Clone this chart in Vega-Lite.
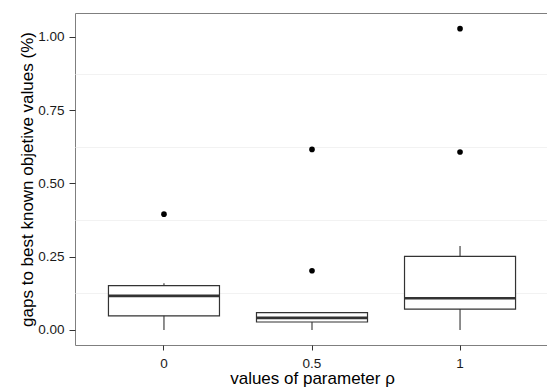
{
  "$schema": "https://vega.github.io/schema/vega-lite/v6.json",
  "autosize": {"type": "none"},
  "padding": {"left": 75, "top": 13, "right": 0, "bottom": 44},
  "width": 474,
  "height": 332,
  "background": "white",
  "config": {
    "font": "Liberation Sans",
    "view": {"stroke": "#7f7f7f", "strokeWidth": 1}
  },
  "datasets": {
    "boxes": [
      {"rho": "0", "lower": 0, "q1": 0.048, "median": 0.116, "q3": 0.151, "upper": 0.159},
      {"rho": "0.5", "lower": 0, "q1": 0.027, "median": 0.041, "q3": 0.059, "upper": 0.061},
      {"rho": "1", "lower": 0, "q1": 0.071, "median": 0.108, "q3": 0.251, "upper": 0.286}
    ],
    "outliers": [
      {"rho": "0", "gap": 0.395},
      {"rho": "0.5", "gap": 0.202},
      {"rho": "0.5", "gap": 0.616},
      {"rho": "1", "gap": 0.607},
      {"rho": "1", "gap": 1.028}
    ]
  },
  "encoding": {
    "x": {
      "field": "rho",
      "type": "nominal",
      "scale": {"type": "band", "domain": ["0", "0.5", "1"], "paddingInner": 0.25, "paddingOuter": 0.226},
      "axis": {
        "title": "values of parameter ρ",
        "labelAngle": 0,
        "grid": false,
        "domain": false,
        "tickColor": "#333333",
        "tickSize": 5,
        "labelColor": "#1a1a1a",
        "labelFontSize": 13.5,
        "labelPadding": 6,
        "titleFontSize": 17,
        "titleFontWeight": "normal",
        "titleColor": "#000000",
        "titlePadding": 1
      }
    }
  },
  "layer": [
    {
      "data": {"name": "boxes"},
      "mark": {"type": "rule", "color": "#333333", "strokeWidth": 1.1},
      "encoding": {
        "y": {
          "field": "lower",
          "type": "quantitative",
          "scale": {"domain": [-0.0515, 1.0815], "nice": false, "zero": false},
          "axis": {
            "title": "gaps to best known objetive values (%)",
            "values": [0, 0.125, 0.25, 0.375, 0.5, 0.625, 0.75, 0.875, 1],
            "labelExpr": "round(datum.value*8) % 2 == 0 ? format(datum.value, '.2f') : ''",
            "grid": true,
            "gridColor": "#f2f2f2",
            "gridOpacity": {"condition": {"test": "round(datum.value*8) % 2 == 1", "value": 1}, "value": 0},
            "tickOpacity": {"condition": {"test": "round(datum.value*8) % 2 == 1", "value": 0}, "value": 1},
            "domain": false,
            "tickColor": "#333333",
            "tickSize": 6,
            "labelColor": "#1a1a1a",
            "labelFontSize": 13.5,
            "labelPadding": 5,
            "titleFontSize": 17,
            "titleFontWeight": "normal",
            "titleColor": "#000000",
            "titlePadding": 1
          }
        },
        "y2": {"field": "upper"}
      }
    },
    {
      "data": {"name": "boxes"},
      "mark": {"type": "bar", "fill": "white", "stroke": "#333333", "strokeWidth": 1.2},
      "encoding": {
        "y": {"field": "q1", "type": "quantitative"},
        "y2": {"field": "q3"}
      }
    },
    {
      "data": {"name": "boxes"},
      "mark": {"type": "tick", "color": "#333333", "size": 111, "thickness": 2.6, "opacity": 1},
      "encoding": {
        "y": {"field": "median", "type": "quantitative"}
      }
    },
    {
      "data": {"name": "outliers"},
      "mark": {"type": "circle", "color": "#000000", "size": 32, "opacity": 1},
      "encoding": {
        "y": {"field": "gap", "type": "quantitative"}
      }
    }
  ]
}
